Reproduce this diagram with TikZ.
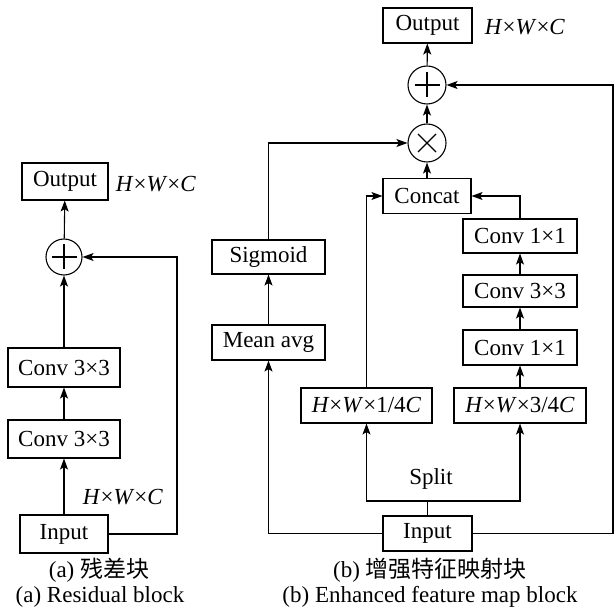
\documentclass[tikz,border=0pt]{standalone}
\usepackage{fontspec}
\setmainfont{Liberation Serif}
\newfontfamily\cjk{Noto Sans CJK SC}
\usetikzlibrary{arrows.meta,calc}
\tikzset{
  box/.style={draw,line width=1.1pt,inner sep=0pt,minimum height=35pt},
  opc/.style={draw,circle,line width=1.1pt,inner sep=0pt,minimum size=37pt},
  arr/.style={line width=1.1pt,-{Stealth[length=11pt,width=8pt,inset=2.5pt]}},
  ln/.style={line width=1.1pt},
  lbl/.style={inner sep=0pt}
}
\newcommand{\plusin}[1]{\draw[ln] ($(#1)+(-12.5,0)$) -- ($(#1)+(12.5,0)$) ($(#1)+(0,-12.5)$) -- ($(#1)+(0,12.5)$);}
\newcommand{\timesin}[1]{\draw[ln] ($(#1)+(-9,-9)$) -- ($(#1)+(9,9)$) ($(#1)+(-9,9)$) -- ($(#1)+(9,-9)$);}
\newcommand{\hwc}{\textit{H}×\textit{W}×\textit{C}}
\begin{document}
\begin{tikzpicture}[x=1pt,y=-1pt,font=\fontsize{23}{27}\selectfont]
\useasboundingbox (0,0) rectangle (616,609);
% ---------- (a) ----------
\node[box,minimum width=86pt,minimum height=37pt] (lout) at (65,181.5) {Output};
\node[lbl] (lhwc1) at (156,184) {\hwc};
\node[opc,minimum size=36pt] (lplus) at (64,257) {};
\plusin{lplus}
\node[box,minimum width=112pt,minimum height=39pt] (lc2) at (64,367.5) {Conv 3×3};
\node[box,minimum width=112pt,minimum height=38pt] (lc1) at (64,439) {Conv 3×3};
\node[box,minimum width=88pt,minimum height=38pt] (lin) at (64,534) {Input};
\node[lbl] (lhwc2) at (123,497) {\hwc};
\coordinate (lskip) at (177,400);
\draw[arr] (lin) -- (lc1);
\draw[arr] (lc1) -- (lc2);
\draw[arr] (lc2) -- (lplus);
\draw[arr] (lplus) -- (lout);
\draw[arr] (lin.east) -| (lskip) |- (lplus.east);
\node[lbl] (capa1) at (99,570) {(a) {\cjk 残差块}};
\node[lbl] (capa2) at (100,597) {(a) Residual block};
% ---------- (b) ----------
\node[box,minimum width=89pt] (rout) at (427.5,25.5) {Output};
\node[lbl] (rhwc) at (525,27) {\hwc};
\node[opc,minimum size=38pt] (rplus) at (427,85) {};
\plusin{rplus}
\node[opc,minimum size=38pt] (rtimes) at (427,143) {};
\timesin{rtimes}
\node[box,minimum width=88pt] (concat) at (427,196) {Concat};
\node[box,minimum width=114pt,minimum height=34pt] (c11a) at (520,236) {Conv 1×1};
\node[box,minimum width=114pt,minimum height=32pt] (c33) at (520,291) {Conv 3×3};
\node[box,minimum width=114pt] (c11b) at (520,347.5) {Conv 1×1};
\node[box,minimum width=132pt] (s34) at (520,405.5) {\textit{H}×\textit{W}×3/4\textit{C}};
\node[box,minimum width=131pt] (s14) at (366.5,405.5) {\textit{H}×\textit{W}×1/4\textit{C}};
\node[box,minimum width=113pt,minimum height=34pt] (sig) at (268.5,257) {Sigmoid};
\node[box,minimum width=113pt] (mean) at (268.5,342.5) {Mean avg};
\node[box,minimum width=89pt] (rin) at (427.5,533.5) {Input};
\node[lbl] (splitlbl) at (431,479) {Split};
\coordinate (split) at (427.5,501);
\coordinate (rskip) at (613,300);
\draw[ln] (rin) -- (split);
\draw[arr] (split) -| (s14);
\draw[arr] (split) -| (s34);
\draw[arr] (s14.north) |- (concat.west);
\draw[arr] (s34) -- (c11b);
\draw[arr] (c11b) -- (c33);
\draw[arr] (c33) -- (c11a);
\draw[arr] (c11a.north) |- (concat.east);
\draw[arr] (concat) -- (rtimes);
\draw[arr] (rtimes) -- (rplus);
\draw[arr] (rplus) -- (rout);
\draw[arr] (rin.west) -| (mean);
\draw[arr] (mean) -- (sig);
\draw[arr] (sig.north) |- (rtimes.west);
\draw[arr] (rin.east) -| (rskip) |- (rplus.east);
\node[lbl] (capb1) at (430,570) {(b) {\cjk 增强特征映射块}};
\node[lbl] (capb2) at (430,597) {(b) Enhanced feature map block};
\end{tikzpicture}
\end{document}
